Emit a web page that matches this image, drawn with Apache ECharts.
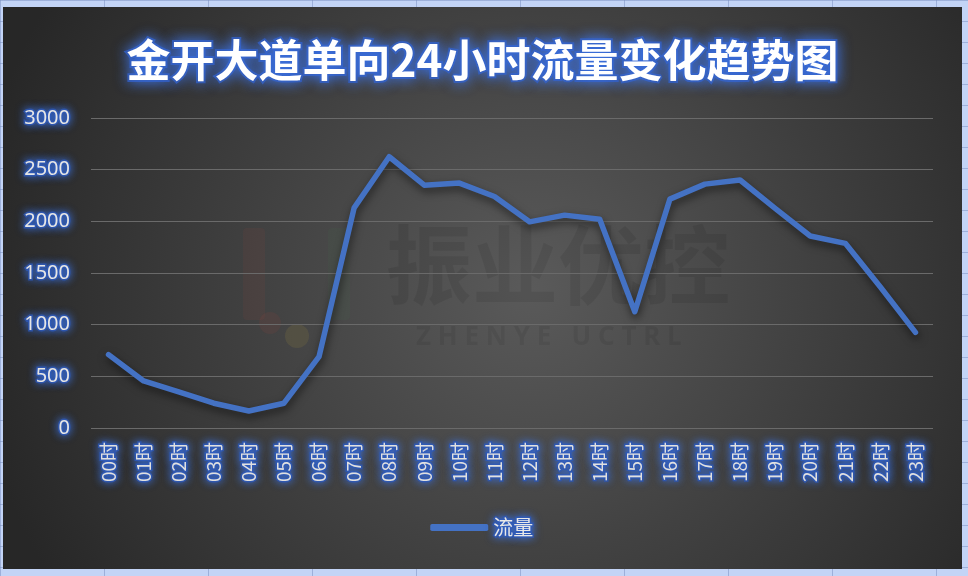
<!DOCTYPE html>
<html>
<head>
<meta charset="utf-8">
<script src="https://cdn.jsdelivr.net/npm/echarts@6/dist/echarts.min.js"></script>
<style>
html,body{margin:0;padding:0;width:968px;height:576px;overflow:hidden;}
body{background-color:#c3d4f6;
background-image:linear-gradient(to right, rgba(120,140,190,0.5) 1px, transparent 1px),linear-gradient(to bottom, rgba(120,140,190,0.5) 1px, transparent 1px);
background-size:104px 104px, 104px 21px;position:relative;}
#chart{position:absolute;left:3px;top:7px;width:959px;height:562px;}
</style>
</head>
<body>
<div id="chart"></div>
<script>
var categories = ['00时','01时','02时','03时','04时','05时','06时','07时','08时','09时','10时','11时','12时','13时','14时','15时','16时','17时','18时','19时','20时','21时','22时','23时'];
var flowValues = [710, 455, 350, 240, 165, 240, 690, 2130, 2625, 2350, 2370, 2240, 1995, 2060, 2020, 1125, 2215, 2360, 2400, 2125, 1858, 1787, 1365, 925];
var yTicks = {min: 0, max: 3000, interval: 500};
var titleText = '金开大道单向24小时流量变化趋势图';
var seriesName = '流量';

var glow = {textBorderColor: 'rgba(45,85,175,0.85)', textBorderWidth: 3,
  textShadowColor: '#3b6fd8', textShadowBlur: 9};
var chart = echarts.init(document.getElementById('chart'));
chart.setOption({
  backgroundColor: {
    type: 'radial', x: 0.55, y: 0.5, r: 1.0,
    colorStops: [{offset: 0, color: '#5a5a5a'}, {offset: 1, color: '#272727'}]
  },
  title: {
    text: titleText, left: 'center', top: 26,
    textStyle: {color: '#ffffff', fontSize: 44, fontWeight: 'bold',
      fontFamily: 'Noto Sans CJK SC', textBorderColor: 'rgba(50,95,200,0.75)', textBorderWidth: 4,
      textShadowColor: '#3d72e0', textShadowBlur: 14}
  },
  graphic: [
    {type: 'text', left: 383, top: 215, z: 0, silent: true,
     style: {text: '振业优控', font: 'bold 86px "Noto Sans CJK SC"', fill: 'rgba(0,0,0,0.08)'}},
    {type: 'text', left: 413, top: 318, z: 0, silent: true,
     style: {text: 'Z H E N Y E   U C T R L', font: 'bold 26px "Noto Sans"', fill: 'rgba(0,0,0,0.07)'}},
    {type: 'rect', left: 240, top: 221, z: 0, silent: true,
     shape: {width: 22, height: 92, r: 4}, style: {fill: 'rgba(200,70,50,0.07)'}},
    {type: 'circle', left: 256, top: 305, z: 0, silent: true,
     shape: {r: 11}, style: {fill: 'rgba(200,70,50,0.09)'}},
    {type: 'circle', left: 282, top: 317, z: 0, silent: true,
     shape: {r: 12}, style: {fill: 'rgba(220,190,60,0.10)'}},
    {type: 'rect', left: 325, top: 221, z: 0, silent: true,
     shape: {width: 22, height: 92, r: 4}, style: {fill: 'rgba(60,160,90,0.06)'}}
  ],
  grid: {left: 88, right: 29, top: 111, bottom: 141},
  legend: {
    data: [{name: seriesName, icon: 'roundRect'}], bottom: 25, left: 'center',
    itemWidth: 58, itemHeight: 7, itemGap: 4,
    textStyle: Object.assign({color: '#e8e8e8', fontSize: 20, fontFamily: 'Noto Sans CJK SC'}, glow)
  },
  xAxis: {
    type: 'category', data: categories, boundaryGap: true,
    axisLine: {show: false}, axisTick: {show: false},
    axisLabel: Object.assign({rotate: 90, color: '#e0e0e0', fontSize: 19, margin: 14,
      fontFamily: 'Noto Sans CJK SC', interval: 0}, glow)
  },
  yAxis: {
    type: 'value', min: yTicks.min, max: yTicks.max, interval: yTicks.interval,
    axisLine: {show: false}, axisTick: {show: false},
    splitLine: {lineStyle: {color: '#6a6a6a', width: 1.2}},
    axisLabel: Object.assign({color: '#e6e6e6', fontSize: 20, margin: 21,
      fontFamily: 'Noto Sans', formatter: function (v) { return String(v); }}, glow)
  },
  series: [{
    name: seriesName, type: 'line', data: flowValues,
    symbol: 'none', smooth: false, z: 5,
    lineStyle: {color: '#4472c4', width: 5.5, cap: 'round', join: 'round',
      shadowColor: 'rgba(0,0,0,0.55)', shadowBlur: 8, shadowOffsetY: 4, shadowOffsetX: 1},
    itemStyle: {color: '#4472c4'}
  }],
  animation: false
});
</script>
</body>
</html>
